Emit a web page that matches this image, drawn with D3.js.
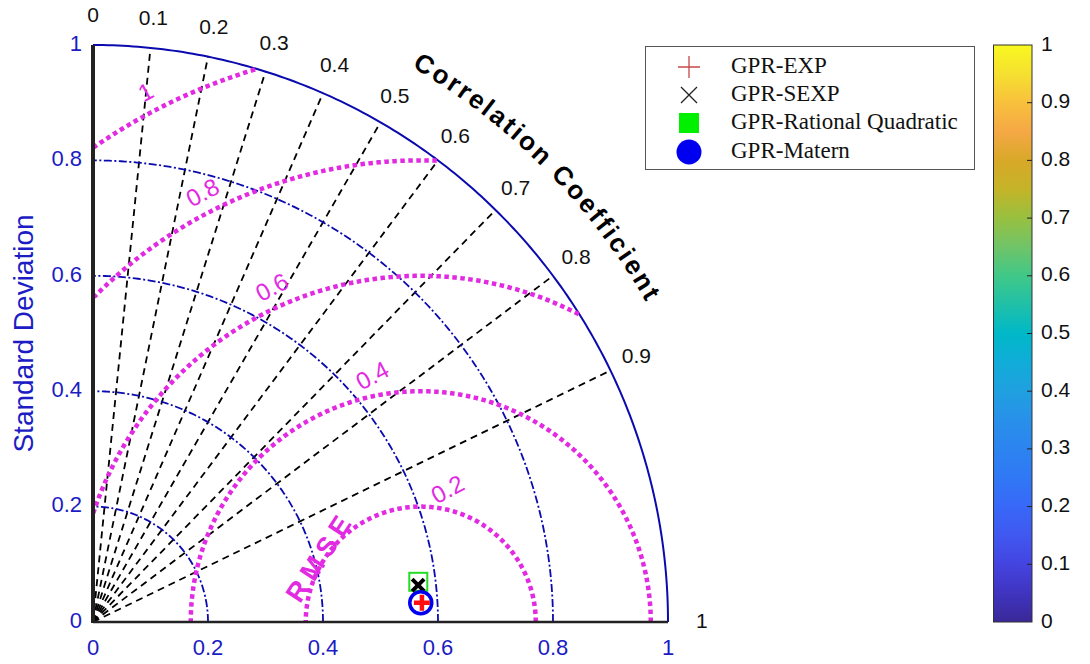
<!DOCTYPE html>
<html>
<head>
<meta charset="utf-8">
<script src="https://cdn.jsdelivr.net/npm/d3@7.9.0/dist/d3.min.js"></script>
<style>
  html, body { margin: 0; padding: 0; background: #fff; }
  svg { display: block; }
</style>
</head>
<body>
<svg id="chart" width="1090" height="664"></svg>
<script>
// data
const corrTicks = [0, 0.1, 0.2, 0.3, 0.4, 0.5, 0.6, 0.7, 0.8, 0.9, 1];
const corrRays = [0.1, 0.2, 0.3, 0.4, 0.5, 0.6, 0.7, 0.8, 0.9];
const stdTicks = [0, 0.2, 0.4, 0.6, 0.8, 1];
const stdCircles = [0.2, 0.4, 0.6, 0.8];
const rmseLevels = [0.2, 0.4, 0.6, 0.8, 1];
const refStd = 0.57;

const models = ['GPR-EXP', 'GPR-SEXP', 'GPR-Rational Quadratic', 'GPR-Matern'];
const modelStd = [0.573, 0.569, 0.570, 0.571];
const modelCorr = [0.9983, 0.9937, 0.9925, 0.9983];

const cbarTicks = [0, 0.1, 0.2, 0.3, 0.4, 0.5, 0.6, 0.7, 0.8, 0.9, 1];
const cbarColors = ['#3a2898', '#4034c0', '#4444e0', '#4058f0', '#3868f8', '#3078f5',
  '#2c84f0', '#2890ea', '#20a0e0', '#10acd8', '#00b8c8', '#20c0a8', '#40c888',
  '#70c468', '#98c040', '#c4b428', '#d8a828', '#f5a845', '#f8c03c', '#f5e030', '#f9f820'];

// rmse label placement (angle around the reference point, degrees)
const rmseLabelAngle = [78, 101, 114, 117, 117.5];

const svg = d3.select('#chart');
const x = d3.scaleLinear().domain([0, 1]).range([93, 668]);
const y = d3.scaleLinear().domain([0, 1]).range([622, 45]);

const BLUE = '#0a0aae';
const BLUE_TXT = '#1c1cc4';
const PINK = '#e22ae2';
const font = 'Arial, "Liberation Sans", sans-serif';
const rad = (deg) => deg * Math.PI / 180;
const polar = (r, t) => [x(r * Math.cos(t)), y(r * Math.sin(t))];
const line = d3.line();

function arcPts(r, t0, t1, n = 180) {
  return d3.range(n + 1).map((i) => polar(r, t0 + (t1 - t0) * i / n));
}

// correlation rays
svg.append('g').selectAll('path')
  .data(corrRays)
  .join('path')
  .attr('d', (c) => line([polar(0, 0), polar(1, Math.acos(c))]))
  .attr('stroke', '#000')
  .attr('stroke-width', 1.8)
  .attr('stroke-dasharray', '7,5')
  .attr('fill', 'none');

// std dev circles
svg.append('g').selectAll('path')
  .data(stdCircles)
  .join('path')
  .attr('d', (s) => line(arcPts(s, 0, Math.PI / 2)))
  .attr('stroke', BLUE)
  .attr('stroke-width', 1.8)
  .attr('stroke-dasharray', '8,2.5,2,2.5')
  .attr('fill', 'none');

svg.append('path')
  .attr('d', line(arcPts(1, 0, Math.PI / 2)))
  .attr('stroke', BLUE)
  .attr('stroke-width', 2)
  .attr('fill', 'none');

// rmse circles around the reference point, kept inside the quarter disc
function rmsePts(R) {
  const pts = [];
  for (let i = 0; i <= 720; i++) {
    const p = Math.PI * i / 720;
    const px = refStd + R * Math.cos(p);
    const py = R * Math.sin(p);
    if (px >= 0 && px * px + py * py <= 1.0001) pts.push([x(px), y(py)]);
  }
  return pts;
}

svg.append('g').selectAll('path')
  .data(rmseLevels)
  .join('path')
  .attr('d', (R) => line(rmsePts(R)))
  .attr('stroke', PINK)
  .attr('stroke-width', 4.5)
  .attr('stroke-dasharray', '4.5,3.5')
  .attr('fill', 'none');

svg.append('g').selectAll('text')
  .data(rmseLevels)
  .join('text')
  .attr('transform', (R, i) => {
    const a = rad(rmseLabelAngle[i]);
    const px = x(refStd + (R + 0.032) * Math.cos(a));
    const py = y((R + 0.032) * Math.sin(a));
    return `translate(${px},${py}) rotate(-28)`;
  })
  .attr('text-anchor', 'middle')
  .attr('dominant-baseline', 'middle')
  .attr('font-family', font)
  .attr('font-size', 24)
  .attr('fill', PINK)
  .text((d) => d);

{
  const a = rad(147);
  const px = x(refStd + 0.205 * Math.cos(a));
  const py = y(0.205 * Math.sin(a));
  svg.append('text')
    .attr('transform', `translate(${px},${py}) rotate(-57)`)
    .attr('text-anchor', 'middle')
    .attr('dominant-baseline', 'middle')
    .attr('font-family', font)
    .attr('font-weight', 'bold')
    .attr('font-size', 27)
    .attr('letter-spacing', 6)
    .attr('fill', PINK)
    .text('RMSE');
}

// axes
svg.append('line')
  .attr('x1', x(0)).attr('x2', x(1))
  .attr('y1', y(0)).attr('y2', y(0))
  .attr('stroke', '#222').attr('stroke-width', 2.5);
svg.append('line')
  .attr('x1', x(0)).attr('x2', x(0))
  .attr('y1', y(0) + 1).attr('y2', y(1))
  .attr('stroke', '#222').attr('stroke-width', 4);

svg.append('g').selectAll('text')
  .data(stdTicks)
  .join('text')
  .attr('x', (d) => x(d))
  .attr('y', 649)
  .attr('text-anchor', 'middle')
  .attr('dominant-baseline', 'middle')
  .attr('font-family', font)
  .attr('font-size', 22)
  .attr('fill', BLUE_TXT)
  .text((d) => d);

svg.append('g').selectAll('text')
  .data(stdTicks)
  .join('text')
  .attr('x', 82)
  .attr('y', (d) => y(d))
  .attr('text-anchor', 'end')
  .attr('dominant-baseline', 'middle')
  .attr('font-family', font)
  .attr('font-size', 22)
  .attr('fill', BLUE_TXT)
  .text((d) => d);

svg.append('text')
  .attr('transform', `translate(26,${y(0.5)}) rotate(-90)`)
  .attr('text-anchor', 'middle')
  .attr('dominant-baseline', 'middle')
  .attr('font-family', font)
  .attr('font-size', 28)
  .attr('fill', BLUE_TXT)
  .text('Standard Deviation');

// correlation labels
svg.append('g').selectAll('text')
  .data(corrTicks)
  .join('text')
  .attr('x', (c) => polar(1.05, Math.acos(c))[0] + (c === 1 ? 5 : 0))
  .attr('y', (c) => polar(1.05, Math.acos(c))[1])
  .attr('text-anchor', 'middle')
  .attr('dominant-baseline', 'middle')
  .attr('font-family', font)
  .attr('font-size', 21)
  .attr('fill', '#111')
  .text((d) => d);

// curved title, one glyph at a time along the arc
{
  const title = 'Correlation Coefficient'.split('');
  const fs = 26, ls = 2.5, R = 1.11, Rpx = R * 576;
  const g = svg.append('g')
    .attr('font-family', font)
    .attr('font-weight', 'bold')
    .attr('font-size', fs)
    .attr('fill', '#000');
  const probe = g.append('text');
  const widths = title.map((ch) => {
    probe.text(ch === ' ' ? '\u00a0' : ch);
    return probe.node().getComputedTextLength();
  });
  probe.remove();
  const total = d3.sum(widths) + ls * (title.length - 1);
  let s = 0;
  const start = rad(45) + (total / 2) / Rpx;
  title.forEach((ch, i) => {
    const a = start - (s + widths[i] / 2) / Rpx;
    s += widths[i] + ls;
    if (ch === ' ') return;
    const [px, py] = polar(R, a);
    g.append('text')
      .attr('transform', `translate(${px},${py}) rotate(${90 - a * 180 / Math.PI})`)
      .attr('text-anchor', 'middle')
      .text(ch);
  });
}

// model markers
const pos = models.map((m, i) => polar(modelStd[i], Math.acos(modelCorr[i])));
const mk = svg.append('g');
mk.append('rect')
  .attr('x', pos[2][0] - 9).attr('y', pos[2][1] - 9)
  .attr('width', 18).attr('height', 18)
  .attr('fill', 'none').attr('stroke', '#22dd22').attr('stroke-width', 2);
mk.append('path')
  .attr('d', `M${pos[1][0] - 6},${pos[1][1] - 6}L${pos[1][0] + 6},${pos[1][1] + 6}M${pos[1][0] + 6},${pos[1][1] - 6}L${pos[1][0] - 6},${pos[1][1] + 6}`)
  .attr('stroke', '#000').attr('stroke-width', 4);
mk.append('circle')
  .attr('cx', pos[3][0]).attr('cy', pos[3][1]).attr('r', 11)
  .attr('fill', '#fff').attr('stroke', '#0000ee').attr('stroke-width', 3.5);
mk.append('path')
  .attr('d', `M${pos[0][0] - 8},${pos[0][1]}H${pos[0][0] + 8}M${pos[0][0]},${pos[0][1] - 8}V${pos[0][1] + 8}`)
  .attr('stroke', '#ff1010').attr('stroke-width', 4.5);

// legend
const legY = [67, 95, 123, 152];
const leg = svg.append('g');
leg.append('rect')
  .attr('x', 645.5).attr('y', 46.5).attr('width', 329).attr('height', 123)
  .attr('fill', '#fff').attr('stroke', '#555').attr('stroke-width', 1);
leg.append('path')
  .attr('d', `M678,${legY[0]}H700M689,${legY[0] - 11}V${legY[0] + 11}`)
  .attr('stroke', '#c84848').attr('stroke-width', 1.3);
leg.append('path')
  .attr('d', `M681,${legY[1] - 8}L697,${legY[1] + 8}M697,${legY[1] - 8}L681,${legY[1] + 8}`)
  .attr('stroke', '#222').attr('stroke-width', 1.3);
leg.append('rect')
  .attr('x', 679).attr('y', legY[2] - 10).attr('width', 20).attr('height', 20)
  .attr('fill', '#00f000');
leg.append('circle')
  .attr('cx', 689).attr('cy', legY[3]).attr('r', 12.5)
  .attr('fill', '#0000f0');
leg.selectAll('text.lg')
  .data(models)
  .join('text')
  .attr('class', 'lg')
  .attr('x', 731)
  .attr('y', (d, i) => legY[i] + 1)
  .attr('dominant-baseline', 'middle')
  .attr('font-family', '"Liberation Serif", "Times New Roman", serif')
  .attr('font-size', 23)
  .attr('fill', '#111')
  .text((d) => d);

// colorbar
const cb = d3.scaleLinear().domain([0, 1]).range([622, 45]);
const grad = svg.append('defs').append('linearGradient')
  .attr('id', 'parula')
  .attr('x1', 0).attr('y1', 1).attr('x2', 0).attr('y2', 0);
grad.selectAll('stop')
  .data(cbarColors)
  .join('stop')
  .attr('offset', (d, i) => i / (cbarColors.length - 1))
  .attr('stop-color', (d) => d);

svg.append('rect')
  .attr('x', 993.5).attr('y', cb(1)).attr('width', 38.5).attr('height', cb(0) - cb(1))
  .attr('fill', 'url(#parula)').attr('stroke', '#333').attr('stroke-width', 1);

svg.append('g').selectAll('line')
  .data(cbarTicks.slice(1, -1))
  .join('line')
  .attr('x1', 1027).attr('x2', 1032)
  .attr('y1', (d) => cb(d)).attr('y2', (d) => cb(d))
  .attr('stroke', '#222').attr('stroke-width', 1);

svg.append('g').selectAll('text')
  .data(cbarTicks)
  .join('text')
  .attr('x', 1041)
  .attr('y', (d) => cb(d))
  .attr('dominant-baseline', 'middle')
  .attr('font-family', font)
  .attr('font-size', 21)
  .attr('fill', '#111')
  .text((d) => d);
</script>
</body>
</html>
